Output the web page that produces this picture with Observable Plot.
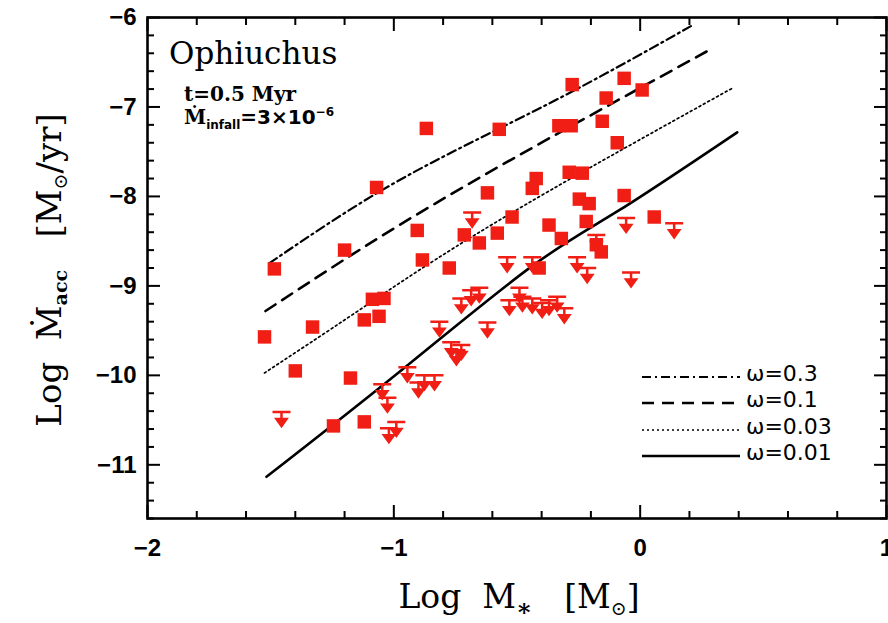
<!DOCTYPE html>
<html><head><meta charset="utf-8">
<script src="https://cdn.jsdelivr.net/npm/d3@7"></script>
<script src="https://cdn.jsdelivr.net/npm/@observablehq/plot@0.6"></script>
<style>body{margin:0;background:#fff}</style>
</head><body><div id="chart"></div>
<script>
// Detections (red squares): log M*, log Mdot_acc
const detX = [-1.525,-1.485,-1.40,-1.33,-1.245,-1.20,-1.176,-1.12,-1.12,-1.087,-1.04,-1.06,-1.07,
  -0.905,-0.884,-0.868,-0.775,-0.714,-0.653,-0.58,-0.62,-0.572,-0.52,-0.438,-0.422,-0.37,-0.41,
  -0.33,-0.28,-0.276,-0.154,-0.138,-0.093,-0.065,0.008,-0.288,-0.235,-0.247,-0.207,-0.065,-0.219,
  0.057,-0.32,-0.178,-0.158];
const detY = [-9.57,-8.81,-9.95,-9.46,-10.565,-8.60,-10.03,-9.38,-10.52,-9.15,-9.14,-9.34,-7.90,
  -8.38,-8.71,-7.24,-8.80,-8.43,-8.52,-8.41,-7.96,-7.25,-8.23,-7.91,-7.80,-8.32,-8.80,
  -7.21,-7.21,-6.75,-7.16,-6.90,-7.40,-6.68,-6.81,-7.73,-7.74,-8.03,-8.08,-7.99,-8.28,
  -8.23,-8.47,-8.54,-8.62];
// Upper limits
const limX = [-1.456,-1.047,-1.026,-0.99,-1.02,-0.945,-0.90,-0.876,-0.835,-0.815,-0.767,-0.726,-0.746,
  -0.726,-0.686,-0.653,-0.62,-0.682,-0.54,-0.531,-0.49,-0.478,-0.438,-0.398,-0.37,-0.337,-0.308,
  -0.438,-0.256,-0.215,-0.178,-0.057,-0.037,0.138];
const limY = [-10.41,-10.10,-10.25,-10.52,-10.59,-9.91,-10.08,-10.0,-10.0,-9.40,-9.63,-9.66,-9.72,
  -9.14,-9.05,-9.02,-9.41,-8.18,-8.68,-9.16,-9.02,-9.12,-9.14,-9.19,-9.16,-9.12,-9.25,
  -8.68,-8.68,-8.80,-8.43,-8.24,-8.85,-8.30];
// Model curves for different omega
const w03X = [-1.505,-0.978,-0.369,0.211];
const w03Y = [-8.746,-7.819,-6.960,-6.089];
const w01X = [-1.521,-0.978,-0.369,0.292];
const w01Y = [-9.281,-8.321,-7.350,-6.346];
const w003X = [-1.525,-1.140,-0.572,0.373];
const w003Y = [-9.973,-9.270,-8.266,-6.792];
const w001X = [-1.517,-0.978,-0.450,-0.085,0.394];
const w001Y = [-11.134,-9.962,-8.801,-8.154,-7.283];
const legendLabels = ["ω=0.3","ω=0.1","ω=0.03","ω=0.01"];
const xMajor = [-2,-1,0,1];
const yMajor = [-11,-10,-9,-8,-7,-6];

const red = "#f01e14";
const dets = detX.map((x,i)=>({x, y: detY[i]}));
const lims = limX.map((x,i)=>({x, y: limY[i]}));
const mk = (X,Y)=>X.map((x,i)=>({x, y: Y[i]}));
const curves = [
  {data: mk(w03X,w03Y), dash: "9,4,2,4", w: 2.2},
  {data: mk(w01X,w01Y), dash: "12,8", w: 2.6},
  {data: mk(w003X,w003Y), dash: "2,3", w: 1.7},
  {data: mk(w001X,w001Y), dash: null, w: 2.6}
];
const xMinor = d3.range(-2, 1.001, 0.2).map(v=>+v.toFixed(2)).filter(v=>!xMajor.includes(v));
const yMinor = d3.range(-11.6, -5.999, 0.2).map(v=>+v.toFixed(2)).filter(v=>!yMajor.includes(v));

const upperLimit = {
  draw(ctx, size) {
    ctx.moveTo(-9, 0); ctx.lineTo(9, 0);
    ctx.moveTo(0, 0); ctx.lineTo(0, 8);
    ctx.moveTo(-5, 7); ctx.lineTo(5, 7); ctx.lineTo(0, 14); ctx.closePath();
  }
};

const fmt = d => (d < 0 ? "\u2212" : "") + Math.abs(d);

const chart = Plot.plot({
  width: 888, height: 623,
  marginLeft: 147, marginRight: 2, marginTop: 17, marginBottom: 105,
  x: {domain: [-2, 1], label: null},
  y: {domain: [-11.6, -6], label: null},
  style: {background: "white", color: "black"},
  marks: [
    Plot.axisX(xMajor, {anchor: "bottom", tickSize: -13, text: null, label: null, strokeWidth: 2}),
    Plot.axisX(xMajor, {anchor: "top", tickSize: -13, text: null, label: null, strokeWidth: 2}),
    Plot.axisX(xMinor, {anchor: "bottom", tickSize: -7, text: null, label: null, strokeWidth: 2}),
    Plot.axisX(xMinor, {anchor: "top", tickSize: -7, text: null, label: null, strokeWidth: 2}),
    Plot.axisY(yMajor, {anchor: "left", tickSize: -13, text: null, label: null, strokeWidth: 2}),
    Plot.axisY(yMajor, {anchor: "right", tickSize: -13, text: null, label: null, strokeWidth: 2}),
    Plot.axisY(yMinor, {anchor: "left", tickSize: -7, text: null, label: null, strokeWidth: 2}),
    Plot.axisY(yMinor, {anchor: "right", tickSize: -7, text: null, label: null, strokeWidth: 2}),
    Plot.axisX(xMajor, {anchor: "bottom", tickSize: 0, tickPadding: 20, label: null, tickFormat: fmt,
      fontSize: 24, fontWeight: "bold", fontFamily: "Liberation Sans"}),
    Plot.axisY(yMajor, {anchor: "left", tickSize: 0, tickPadding: 11, label: null, tickFormat: fmt,
      fontSize: 24, fontWeight: "bold", fontFamily: "Liberation Sans"}),
    Plot.frame({strokeWidth: 2.6}),
    ...curves.map(c => Plot.line(c.data, {x: "x", y: "y", curve: "natural", stroke: "black",
      strokeWidth: c.w, strokeDasharray: c.dash})),
    Plot.dot(dets, {x: "x", y: "y", symbol: "square", r: 7.6, fill: red, stroke: "none"}),
    Plot.dot(lims, {x: "x", y: "y", symbol: upperLimit, r: 5, fill: red, stroke: red, strokeWidth: 2.5})
  ]
});
document.getElementById("chart").appendChild(chart);

const svg = d3.select(chart);
const serif = "DejaVu Serif";
// Axis titles
const xt = svg.append("text").attr("x", 519).attr("y", 608).attr("text-anchor", "middle")
  .attr("font-family", serif).attr("font-size", 33).style("white-space", "pre").attr("fill", "black");
xt.append("tspan").text("Log  M");
xt.append("tspan").attr("dy", 8).attr("font-size", 24).attr("font-weight", "bold").text("\u2217");
xt.append("tspan").attr("dy", -8).text("   [M");
xt.append("tspan").attr("dy", 7).attr("font-size", 19).text("\u2299");
xt.append("tspan").attr("dy", -7).text("]");

const yt = svg.append("text").attr("transform", "translate(61,270) rotate(-90)").attr("text-anchor", "middle")
  .attr("font-family", serif).attr("font-size", 34).style("white-space", "pre").attr("fill", "black");
yt.append("tspan").text("Log  \u1E40");
yt.append("tspan").attr("dy", 6).attr("font-size", 19).attr("font-weight", "bold").text("acc");
yt.append("tspan").attr("dy", -6).text("   [M");
yt.append("tspan").attr("dy", 6).attr("font-size", 19).text("\u2299");
yt.append("tspan").attr("dy", -6).text("/yr]");

// In-panel annotations
svg.append("text").attr("x", 169).attr("y", 64).attr("text-anchor", "start").attr("font-family", "DejaVu Serif")
  .attr("font-size", 31).attr("fill", "black").text("Ophiuchus");
svg.append("text").attr("x", 184).attr("y", 101).attr("text-anchor", "start").attr("font-family", "DejaVu Serif").attr("font-weight", "bold")
  .attr("font-size", 20).attr("fill", "black").style("white-space", "pre").text("t=0.5 Myr");
const mi = svg.append("text").attr("x", 184).attr("y", 124).attr("text-anchor", "start").attr("font-family", "DejaVu Serif").attr("font-weight", "bold")
  .attr("font-size", 20).attr("fill", "black");
mi.append("tspan").text("\u1E40");
mi.append("tspan").attr("dy", 5).attr("font-size", 12).attr("font-family", "DejaVu Sans").text("infall");
mi.append("tspan").attr("dy", -5).attr("font-family", "DejaVu Sans").text("=3\u00D710");
mi.append("tspan").attr("dy", -8).attr("font-size", 12).attr("font-family", "DejaVu Sans").text("\u22126");

// Legend
const legY = [377, 403, 430, 456];
legendLabels.forEach((lab, i) => {
  const c = curves[i];
  svg.append("line").attr("x1", 642).attr("x2", 740).attr("y1", legY[i]).attr("y2", legY[i])
    .attr("stroke", "black").attr("stroke-width", c.w).attr("stroke-dasharray", c.dash);
  svg.append("text").attr("x", 746).attr("y", legY[i] + 4).attr("text-anchor", "start").attr("font-family", "DejaVu Sans")
    .attr("font-size", 22).attr("fill", "black").text(lab);
});
</script>
</body></html>
